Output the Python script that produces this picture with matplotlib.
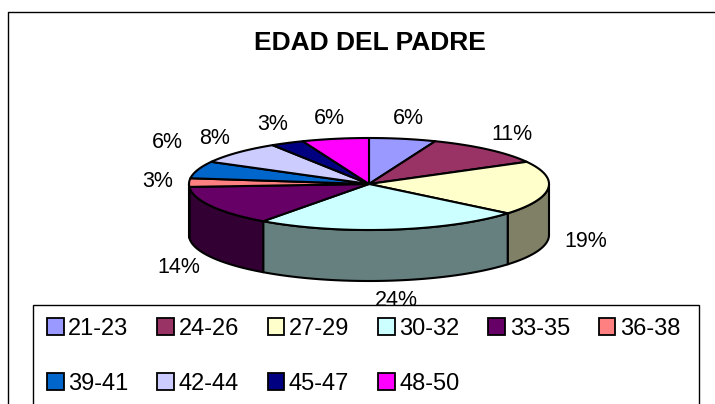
import numpy as np
import matplotlib
matplotlib.use("Agg")
import matplotlib.pyplot as plt
from matplotlib.patches import Polygon, Rectangle, Patch
from matplotlib.colors import to_rgb

plt.rcParams['font.family'] = ['Liberation Sans', 'DejaVu Sans']

title = "EDAD DEL PADRE"
categories = ["21-23", "24-26", "27-29", "30-32", "33-35",
              "36-38", "39-41", "42-44", "45-47", "48-50"]
percents = [6, 11, 19, 24, 14, 3, 6, 8, 3, 6]
colors = ["#9999FF", "#993366", "#FFFFCC", "#CCFFFF", "#660066",
          "#FF8080", "#0066CC", "#CCCCFF", "#000080", "#FF00FF"]

W, H = 715, 404
fig = plt.figure(figsize=(W / 100, H / 100), dpi=100)
ax = fig.add_axes([0, 0, 1, 1])
ax.set_xlim(0, W)
ax.set_ylim(H, 0)
ax.axis('off')

# pie geometry (pixels): centre, ellipse radii, thickness
cx, cy = 369, 184
rx, ry = 180, 46
depth = 51


def rim(t):
    # t runs clockwise from 12 o'clock
    return cx + rx * np.sin(t), cy - ry * np.cos(t)


vals = np.array(percents, float)
edges = np.concatenate([[0], np.cumsum(vals)]) / vals.sum() * 2 * np.pi

# outer wall, only the front half is visible
for i, c in enumerate(colors):
    t0, t1 = max(edges[i], np.pi / 2), min(edges[i + 1], 3 * np.pi / 2)
    if t1 <= t0:
        continue
    t = np.linspace(t0, t1, 80)
    x, y = rim(t)
    xs = np.concatenate([x, x[::-1]])
    ys = np.concatenate([y, y[::-1] + depth])
    side = tuple(v * 0.5 for v in to_rgb(c))
    ax.add_patch(Polygon(np.column_stack([xs, ys]), closed=True, facecolor=side,
                         edgecolor='black', lw=1.5, joinstyle='round'))

# top faces
for i, c in enumerate(colors):
    t = np.linspace(edges[i], edges[i + 1], 100)
    x, y = rim(t)
    pts = np.column_stack([np.r_[cx, x], np.r_[cy, y]])
    ax.add_patch(Polygon(pts, closed=True, facecolor=c, edgecolor='black',
                         lw=1.5, joinstyle='round'))

# percentage labels: box pushed outward so its inner side touches a ring,
# then nudged vertically if it crowds a label already placed
renderer = fig.canvas.get_renderer()
gx, gy = 16, 10
placed = []
for i, p in enumerate(percents):
    m = (edges[i] + edges[i + 1]) / 2
    s, c = np.sin(m), np.cos(m)
    px = cx + (rx + gx) * s
    py = cy - (ry + gy) * c + (depth if c < 0 else 0)
    txt = ax.text(px, py, f"{p}%", ha='center', va='center', fontsize=15.5)
    bb = txt.get_window_extent(renderer)
    w, h = bb.width, bb.height
    lx, ly = px + w / 2 * s, py - h / 2 * c
    for ox, oy, ow in placed:
        if abs(lx - ox) < (w + ow) / 2 and abs(ly - oy) < 1.9 * h:
            ly = oy + np.sign(ly - oy) * 1.9 * h
    txt.set_position((lx, ly))
    placed.append((lx, ly, w))

ax.text(370, 43, title, ha='center', va='center', fontsize=19, weight='bold')

# chart frame and legend box
ax.plot([8, 8, W], [H, 12, 12], color='black', lw=1)
ax.add_patch(Rectangle((33, 305), 666, 200, facecolor='white',
                       edgecolor='black', lw=1, zorder=5))

# legend filled row by row (matplotlib fills by column)
ncol = 6
nrows = -(-len(categories) // ncol)
order = [r * ncol + k for k in range(ncol) for r in range(nrows)
         if r * ncol + k < len(categories)]
handles = [Patch(facecolor=colors[j], edgecolor='black', lw=1.3) for j in order]
fig.legend(handles, [categories[j] for j in order], ncol=ncol, loc='upper left',
           bbox_to_anchor=(47 / W, 1 - 318 / H), frameon=False, fontsize=17,
           handlelength=0.7, handleheight=0.72, handletextpad=0.2,
           columnspacing=1.22, labelspacing=1.38, borderpad=0, borderaxespad=0)

fig.savefig("out.png", dpi=100)
